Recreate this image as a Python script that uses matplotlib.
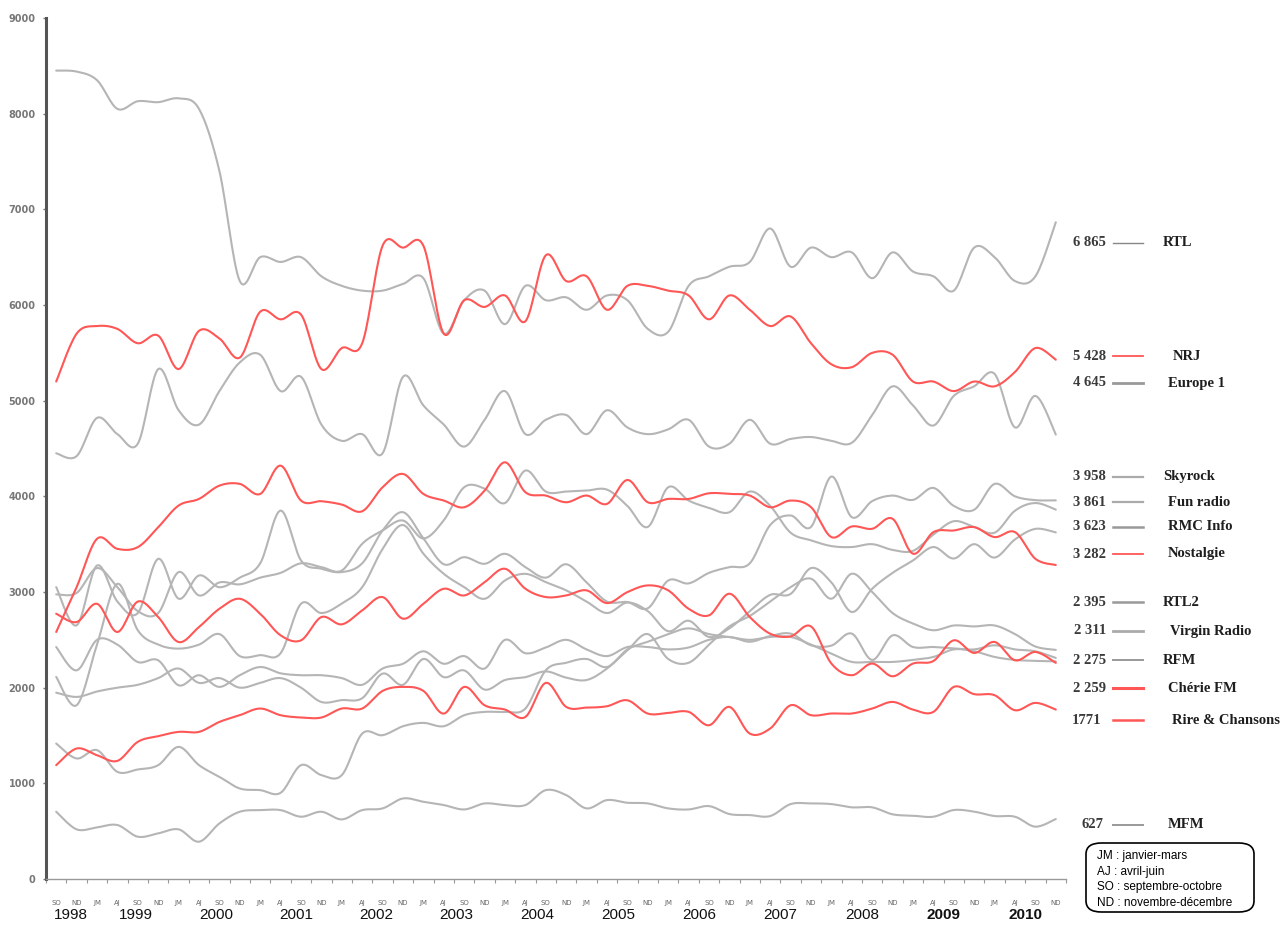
import numpy as np
import matplotlib
matplotlib.use("Agg")
import matplotlib.pyplot as plt
from matplotlib.patches import FancyBboxPatch
from matplotlib.lines import Line2D

# ---------------- data ----------------
quarters = ["SO", "ND"] + ["JM", "AJ", "SO", "ND"] * 12
years = [str(y) for y in range(1998, 2011)]

rtl = [8450, 8440, 8350, 8050, 8130, 8120, 8160, 8050, 7400, 6250,
       6500, 6450, 6500, 6300, 6200, 6150, 6150, 6220, 6280, 5700,
       6050, 6150, 5800, 6200, 6050, 6080, 5950, 6100, 6050, 5750,
       5720, 6200, 6300, 6400, 6450, 6800, 6400, 6600, 6500, 6550,
       6280, 6550, 6350, 6300, 6150, 6600, 6500, 6250, 6300, 6865]
nrj = [5200, 5700, 5780, 5750, 5600, 5680, 5330, 5730, 5650, 5450,
       5930, 5850, 5900, 5330, 5550, 5600, 6620, 6600, 6620, 5700,
       6050, 5980, 6100, 5830, 6520, 6250, 6300, 5950, 6200, 6200,
       6150, 6100, 5850, 6100, 5950, 5780, 5880, 5600, 5380, 5350,
       5500, 5480, 5200, 5200, 5100, 5200, 5150, 5300, 5550, 5428]
europe1 = [4450, 4420, 4820, 4650, 4550, 5330, 4900, 4750, 5100, 5400,
           5480, 5100, 5250, 4750, 4580, 4650, 4450, 5250, 4950, 4750,
           4520, 4800, 5100, 4650, 4800, 4850, 4650, 4900, 4720, 4650,
           4700, 4800, 4520, 4550, 4800, 4550, 4600, 4620, 4580, 4560,
           4850, 5150, 4950, 4740, 5050, 5150, 5280, 4720, 5050, 4645]
skyrock = [3051, 2651, 3277, 2900, 2780, 3347, 2930, 3173, 3050, 3150,
           3300, 3851, 3330, 3243, 3208, 3300, 3643, 3834, 3560, 3290,
           3364, 3295, 3399, 3260, 3150, 3290, 3100, 2900, 2895, 2830,
           3120, 3090, 3200, 3260, 3300, 3700, 3800, 3680, 4207, 3782,
           3950, 4008, 3963, 4088, 3900, 3860, 4130, 4000, 3960, 3958]
funradio = [2975, 2990, 3250, 3050, 2800, 2780, 3208, 2964, 3100, 3080,
            3150, 3200, 3300, 3260, 3225, 3504, 3643, 3747, 3560, 3750,
            4095, 4080, 3930, 4270, 4050, 4050, 4060, 4070, 3900, 3680,
            4095, 3956, 3880, 3834, 4050, 3900, 3620, 3540, 3480, 3470,
            3500, 3440, 3430, 3600, 3740, 3680, 3620, 3850, 3930, 3861]
rmc = [2112, 1816, 2450, 3086, 2600, 2450, 2408, 2450, 2560, 2330,
       2340, 2360, 2877, 2780, 2880, 3050, 3450, 3700, 3400, 3190,
       3051, 2929, 3121, 3190, 3103, 3017, 2900, 2780, 2890, 2800,
       2590, 2700, 2530, 2620, 2800, 2970, 2980, 3250, 3100, 2791,
       3034, 3200, 3330, 3470, 3350, 3500, 3360, 3550, 3660, 3623]
nostalgie = [2582, 3050, 3556, 3451, 3469, 3677, 3904, 3973, 4112, 4130,
             4025, 4321, 3956, 3949, 3914, 3844, 4095, 4234, 4025, 3956,
             3886, 4060, 4356, 4043, 4008, 3938, 4008, 3921, 4171, 3938,
             3973, 3973, 4032, 4025, 4008, 3886, 3956, 3887, 3574, 3685,
             3661, 3765, 3400, 3626, 3643, 3678, 3574, 3626, 3347, 3282]
rtl2 = [1948, 1903, 1960, 2000, 2030, 2100, 2200, 2050, 2100, 2000,
        2050, 2100, 2000, 1850, 1870, 1890, 2147, 2030, 2300, 2110,
        2180, 1980, 2080, 2110, 2170, 2105, 2080, 2200, 2390, 2560,
        2300, 2260, 2450, 2640, 2750, 2900, 3050, 3139, 2930, 3191,
        3000, 2780, 2670, 2600, 2650, 2640, 2650, 2560, 2430, 2395]
virgin = [2425, 2181, 2500, 2450, 2268, 2286, 2025, 2130, 2008, 2130,
          2216, 2150, 2130, 2130, 2100, 2030, 2200, 2250, 2380, 2250,
          2330, 2200, 2500, 2360, 2420, 2500, 2400, 2330, 2425, 2425,
          2400, 2420, 2500, 2530, 2480, 2540, 2565, 2443, 2440, 2565,
          2290, 2547, 2425, 2425, 2410, 2400, 2443, 2400, 2380, 2311]
rfm = [1416, 1260, 1347, 1120, 1145, 1190, 1381, 1190, 1068, 946,
       929, 901, 1190, 1086, 1086, 1520, 1503, 1597, 1632, 1597,
       1712, 1747, 1747, 1782, 2182, 2260, 2300, 2216, 2400, 2480,
       2560, 2620, 2560, 2530, 2500, 2530, 2530, 2450, 2356, 2269,
       2270, 2269, 2290, 2321, 2400, 2380, 2321, 2290, 2280, 2275]
cherie = [2773, 2686, 2877, 2582, 2900, 2738, 2477, 2634, 2825, 2929,
          2773, 2547, 2495, 2738, 2662, 2808, 2947, 2721, 2877, 3034,
          2964, 3103, 3243, 3034, 2947, 2964, 3017, 2884, 2999, 3069,
          3017, 2825, 2756, 2982, 2738, 2564, 2536, 2640, 2252, 2130,
          2252, 2119, 2252, 2279, 2495, 2363, 2478, 2286, 2373, 2259]
rire = [1190, 1364, 1294, 1235, 1434, 1493, 1538, 1538, 1642, 1712,
        1782, 1712, 1688, 1688, 1782, 1782, 1966, 2008, 1966, 1729,
        2008, 1816, 1771, 1694, 2050, 1799, 1792, 1806, 1868, 1729,
        1736, 1747, 1607, 1799, 1520, 1573, 1816, 1712, 1730, 1730,
        1782, 1851, 1771, 1747, 2008, 1932, 1921, 1764, 1841, 1771]
mfm = [703, 519, 540, 564, 442, 477, 519, 390, 581, 703,
       720, 720, 651, 703, 623, 720, 738, 842, 807, 773,
       727, 790, 773, 773, 929, 877, 738, 825, 797, 790,
       738, 727, 762, 679, 668, 658, 783, 790, 783, 749,
       749, 676, 662, 651, 721, 704, 658, 651, 547, 627]

names = ["RTL", "NRJ", "Europe 1", "Skyrock", "Fun radio", "RMC Info", "Nostalgie",
         "RTL2", "Virgin Radio", "RFM", "Chérie FM", "Rire & Chansons", "MFM"]
last_labels = ["6 865", "5 428", "4 645", "3 958", "3 861", "3 623", "3 282",
               "2 395", "2 311", "2 275", "2 259", "1771", "627"]
values = [rtl, nrj, europe1, skyrock, funradio, rmc, nostalgie,
          rtl2, virgin, rfm, cherie, rire, mfm]
is_red = [False, True, False, False, False, False, True,
          False, False, False, True, True, False]

# ---------------- styling ----------------
GRAY = "#b5b5b5"
RED = "#ff5656"
W, H = 1281, 925


def smooth(yvals, n=16):
    """Excel-style smoothed line (cubic Bezier through the points)."""
    x = np.arange(len(yvals), dtype=float)
    pts = np.column_stack([x, np.asarray(yvals, dtype=float)])
    out = [pts[0]]
    t = np.linspace(0, 1, n + 1)[1:, None]
    for i in range(len(pts) - 1):
        p0 = pts[i - 1] if i > 0 else pts[i]
        p1, p2 = pts[i], pts[i + 1]
        p3 = pts[i + 2] if i + 2 < len(pts) else pts[i + 1]
        c1 = p1 + (p2 - p0) / 6.0
        c2 = p2 - (p3 - p1) / 6.0
        seg = ((1 - t) ** 3) * p1 + 3 * ((1 - t) ** 2) * t * c1 + 3 * (1 - t) * t ** 2 * c2 + t ** 3 * p2
        out.extend(seg)
    out = np.array(out)
    return out[:, 0], out[:, 1]


fig = plt.figure(figsize=(W / 100, H / 100), dpi=100)
ax = fig.add_axes([46 / W, 1 - 879 / H, (1066 - 46) / W, (879 - 18) / H])

for vals, red in zip(values, is_red):
    xs, ys = smooth(vals)
    ax.plot(xs, ys, color=RED if red else GRAY, lw=1.5, solid_capstyle="round", zorder=3 if red else 2)

ax.set_xlim(-0.5, 49.5)
ax.set_ylim(0, 9000)
for s in ["top", "right"]:
    ax.spines[s].set_visible(False)
ax.spines["left"].set_color("#555555")
ax.spines["left"].set_linewidth(2.2)
ax.spines["bottom"].set_color("#999999")
ax.spines["bottom"].set_linewidth(1.0)

ax.set_yticks(np.arange(0, 9001, 1000))
ax.set_yticklabels([str(v) for v in range(0, 9001, 1000)], fontsize=7, color="#777777",
                   fontweight="bold")
ax.tick_params(axis="y", length=2.5, width=1, color="#777777", pad=5)

ax.set_xticks(np.arange(-0.5, 50, 1))
ax.set_xticklabels([])
ax.tick_params(axis="x", which="major", length=3, width=0.8, color="#999999")
ax.set_xticks(np.arange(len(quarters)), minor=True)
ax.set_xticklabels(quarters, minor=True, fontsize=5, color="#666666")
ax.tick_params(axis="x", which="minor", length=0, pad=15)

year_pos = [0.7, 3.9, 7.85, 11.75, 15.7, 19.6, 23.6, 27.55, 31.5, 35.5, 39.5, 43.5, 47.5]
for yp, yr in zip(year_pos, years):
    ax.text(yp, -0.0418, yr, transform=ax.get_xaxis_transform(), ha="center", va="center",
            fontsize=11, family="Liberation Sans",
            fontweight="bold" if yr in ("2009", "2010") else "normal", color="#111111")

# ---------------- right-side labels ----------------
label_y = [243, 356, 383, 477, 502, 527, 554, 602, 631, 660, 688, 720, 825]
name_x = [1163, 1173, 1168, 1163, 1168, 1168, 1168, 1163, 1170, 1163, 1168, 1172, 1168]
val_x = [1106, 1106, 1106, 1106, 1106, 1106, 1106, 1106, 1106, 1106, 1106, 1101, 1103]
sw_lw = [1.0, 1.3, 2.0, 1.6, 1.6, 1.8, 1.3, 1.8, 2.0, 1.4, 2.2, 1.8, 1.4]
sw_gray = ["#888888", RED, "#999999", "#aaaaaa", "#aaaaaa", "#999999", RED,
           "#999999", "#aaaaaa", "#999999", RED, RED, "#999999"]
for i, name in enumerate(names):
    yf = 1 - label_y[i] / H
    fig.text(val_x[i] / W, yf, last_labels[i], ha="right", va="center", fontsize=10.5,
             family="Liberation Serif", fontweight="bold", color="#3a3a3a")
    fig.text(name_x[i] / W, yf, name, ha="left", va="center", fontsize=10.5,
             family="Liberation Serif", fontweight="bold", color="#1e1e1e")
    fig.add_artist(Line2D([1113 / W, 1143 / W], [yf, yf], color=sw_gray[i], lw=sw_lw[i],
                          transform=fig.transFigure))

# ---------------- glossary box ----------------
box = FancyBboxPatch((1086 / W, 1 - 912 / H), (1254 - 1086) / W, (912 - 843) / H,
                     boxstyle="round,pad=0,rounding_size=0.012", transform=fig.transFigure,
                     facecolor="white", edgecolor="black", lw=1.2)
fig.add_artist(box)
gloss = ["JM : janvier-mars", "AJ : avril-juin", "SO : septembre-octobre", "ND : novembre-décembre"]
for k, g in enumerate(gloss):
    fig.text(1097 / W, 1 - (856 + 15.5 * k) / H, g, ha="left", va="center", fontsize=8.5,
             family="Liberation Sans", color="black")

fig.savefig("out.png", dpi=100)
